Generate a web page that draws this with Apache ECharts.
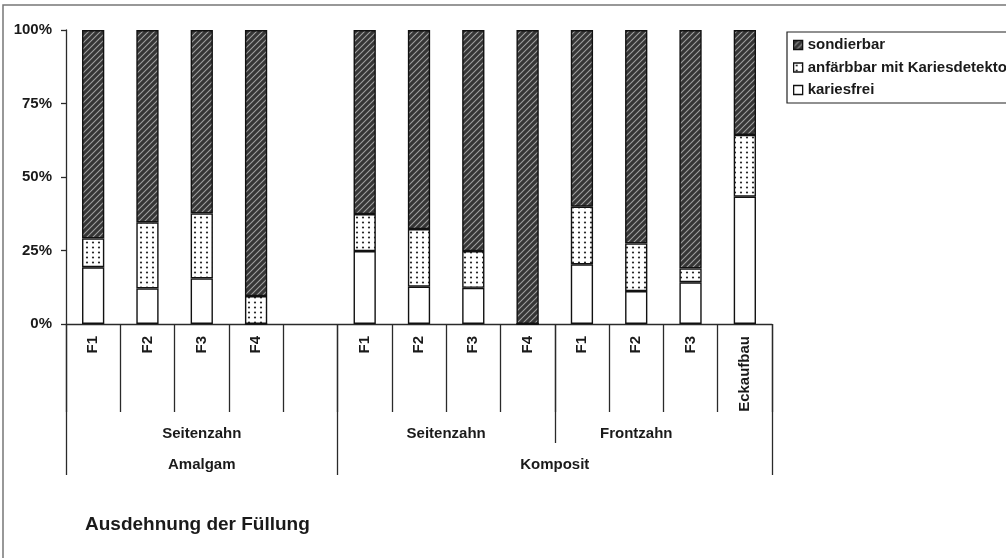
<!DOCTYPE html>
<html>
<head>
<meta charset="utf-8">
<script src="https://cdn.jsdelivr.net/npm/echarts@6/dist/echarts.min.js"></script>
<style>
  html, body { margin: 0; padding: 0; background: #fff; }
  #chart { width: 1006px; height: 558px; }
</style>
</head>
<body>
<div id="chart"></div>
<script>
// Categories (innermost level) — the empty slot separates Amalgam from Komposit
const categories = ['F1', 'F2', 'F3', 'F4', '', 'F1', 'F2', 'F3', 'F4', 'F1', 'F2', 'F3', 'Eckaufbau'];

// Shares in percent, stacked bottom to top
const kariesfrei = [19.3, 12.1, 15.5, 0, null, 24.8, 12.7, 12.3, 0, 20.3, 11.2, 14.2, 43.3];
const anfaerbbar = [9.8, 22.5, 22.1, 9.5, null, 12.6, 19.6, 12.5, 0, 19.6, 16.2, 4.7, 21.0];
const sondierbar = [70.9, 65.4, 62.4, 90.5, null, 62.6, 67.7, 75.2, 100, 60.1, 72.6, 81.1, 35.7];

const yTicks = [0, 25, 50, 75, 100];

// Second level of the category axis (positions in category units)
const level2Names = ['Seitenzahn', 'Seitenzahn', 'Frontzahn'];
const level2Centers = [2.5, 7, 10.5];
const level2Bounds = [9];

// Third level of the category axis
const level3Names = ['Amalgam', 'Komposit'];
const level3Centers = [2.5, 9];
const level3Bounds = [0, 5, 13];

const legendOrder = ['sondierbar', 'anfärbbar mit Kariesdetektor', 'kariesfrei'];
const titleText = 'Ausdehnung der Füllung';

const FONT = '"Liberation Sans", Arial, sans-serif';
const INK = '#1a1a1a';

// Fill patterns
function hatchPattern() {
  const c = document.createElement('canvas');
  c.width = 6; c.height = 6;
  const g = c.getContext('2d');
  g.fillStyle = '#363636';
  g.fillRect(0, 0, 6, 6);
  g.strokeStyle = '#a0a0a0';
  g.lineWidth = 1.1;
  g.beginPath();
  g.moveTo(-1, 7); g.lineTo(7, -1);
  g.moveTo(-1, 1); g.lineTo(1, -1);
  g.moveTo(5, 7); g.lineTo(7, 5);
  g.stroke();
  return c;
}
function dotPattern() {
  const c = document.createElement('canvas');
  c.width = 6; c.height = 5;
  const g = c.getContext('2d');
  g.fillStyle = '#ffffff';
  g.fillRect(0, 0, 6, 5);
  g.fillStyle = '#2a2a2a';
  g.beginPath();
  g.arc(3, 2.5, 1.1, 0, Math.PI * 2);
  g.fill();
  return c;
}

const border = { borderColor: '#111', borderWidth: 1.4 };
const gridBox = { left: 66, right: 234, top: 30, bottom: 234, outerBoundsMode: 'none' };
const tickLine = { color: '#2a2a2a', width: 1.3 };
const labelFont = { fontSize: 15, fontWeight: 'bold', color: INK, fontFamily: FONT };

const chart = echarts.init(document.getElementById('chart'), null, { renderer: 'canvas' });

const barBase = { type: 'bar', stack: 'total', barWidth: '41%', xAxisIndex: 0, yAxisIndex: 0, silent: true };

chart.setOption({
  animation: false,
  textStyle: { fontFamily: FONT, color: INK },
  title: {
    text: titleText,
    left: 85, top: 515, padding: 0,
    textStyle: { fontFamily: FONT, fontSize: 19, fontWeight: 'bold', color: INK }
  },
  legend: {
    data: legendOrder,
    orient: 'vertical',
    left: 787, top: 32,
    padding: [5, 40, 5, 6],
    itemGap: 6.5,
    itemWidth: 9, itemHeight: 9,
    icon: 'rect',
    selectedMode: false,
    borderColor: '#222', borderWidth: 1.2,
    itemStyle: { borderColor: '#111', borderWidth: 1.3 },
    textStyle: Object.assign({ lineHeight: 16 }, labelFont)
  },
  graphic: [{
    type: 'polyline',
    shape: { points: [[3, 558], [3, 5], [1006, 5]] },
    style: { stroke: '#777', lineWidth: 1.5, fill: null },
    silent: true
  }],
  grid: [
    Object.assign({}, gridBox),
    Object.assign({}, gridBox),
    Object.assign({}, gridBox)
  ],
  xAxis: [
    {
      type: 'category', gridIndex: 0, data: categories,
      axisLine: { show: true, lineStyle: tickLine },
      axisTick: { show: true, interval: 0, alignWithLabel: false, length: 88, lineStyle: tickLine },
      axisLabel: Object.assign({ interval: 0, rotate: 90, margin: 12 }, labelFont)
    },
    {
      type: 'value', gridIndex: 1, min: 0, max: 13,
      axisLine: { show: false }, splitLine: { show: false },
      axisTick: { show: true, customValues: level2Bounds, length: 119, lineStyle: tickLine },
      axisLabel: Object.assign({
        show: true, customValues: level2Centers, margin: 102,
        formatter: v => level2Names[level2Centers.indexOf(v)] || ''
      }, labelFont)
    },
    {
      type: 'value', gridIndex: 2, min: 0, max: 13,
      axisLine: { show: false }, splitLine: { show: false },
      axisTick: { show: true, customValues: level3Bounds, length: 151, lineStyle: tickLine },
      axisLabel: Object.assign({
        show: true, customValues: level3Centers, margin: 133,
        formatter: v => level3Names[level3Centers.indexOf(v)] || ''
      }, labelFont)
    }
  ],
  yAxis: [
    {
      type: 'value', gridIndex: 0, min: yTicks[0], max: yTicks[yTicks.length - 1], interval: 25,
      axisLine: { show: true, lineStyle: tickLine },
      axisTick: { show: true, length: 5, lineStyle: tickLine },
      splitLine: { show: false },
      axisLabel: Object.assign({ formatter: '{value}%', margin: 14 }, labelFont)
    },
    { type: 'value', gridIndex: 1, show: false },
    { type: 'value', gridIndex: 2, show: false }
  ],
  series: [
    Object.assign({}, barBase, {
      name: 'kariesfrei', data: kariesfrei,
      itemStyle: Object.assign({ color: '#ffffff' }, border)
    }),
    Object.assign({}, barBase, {
      name: 'anfärbbar mit Kariesdetektor', data: anfaerbbar,
      itemStyle: Object.assign({ color: { image: dotPattern(), repeat: 'repeat' } }, border)
    }),
    Object.assign({}, barBase, {
      name: 'sondierbar', data: sondierbar,
      itemStyle: Object.assign({ color: { image: hatchPattern(), repeat: 'repeat' } }, border)
    })
  ]
});
</script>
</body>
</html>
